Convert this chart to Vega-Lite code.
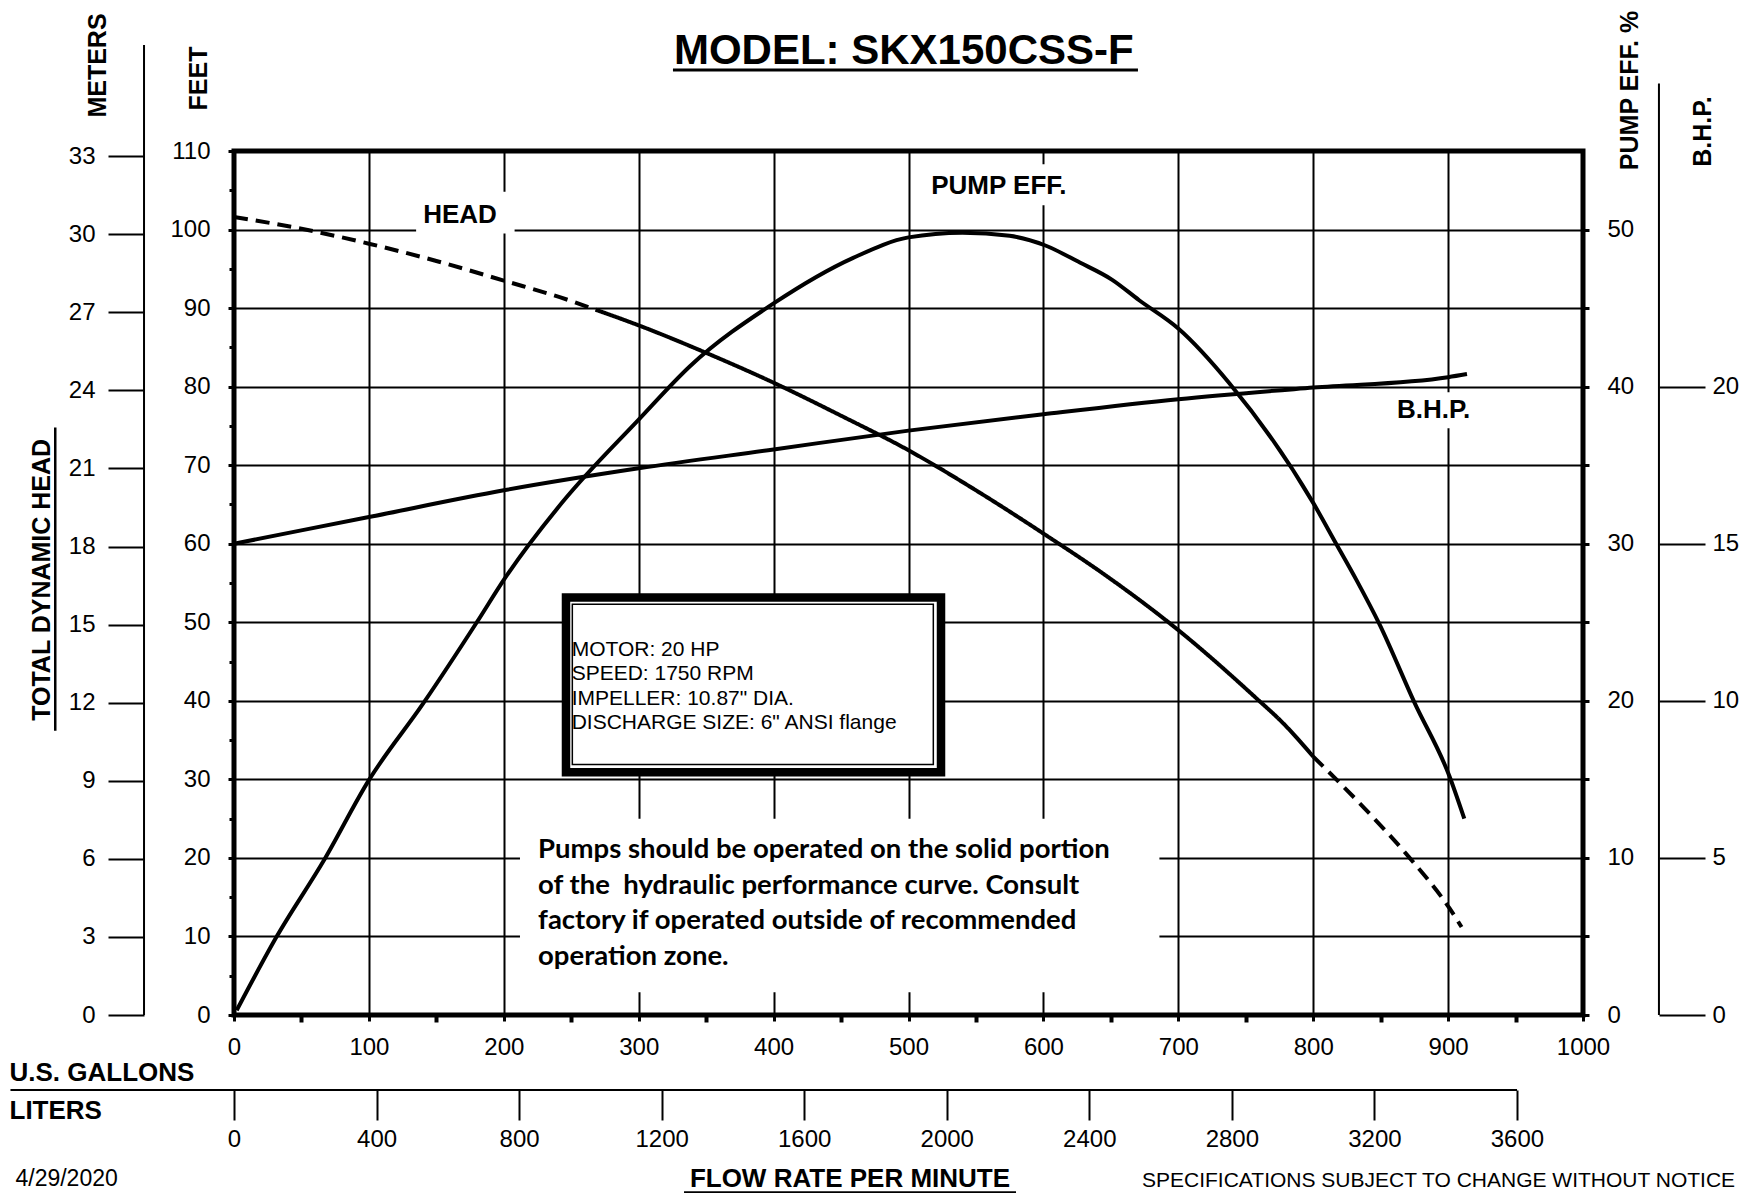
{
  "$schema": "https://vega.github.io/schema/vega-lite/v6.json",
  "width": 1349,
  "height": 864,
  "autosize": "none",
  "padding": {"left": 234, "top": 151, "right": 164, "bottom": 178},
  "background": "white",
  "config": {
    "view": {"stroke": "black", "strokeWidth": 5},
    "font": "Liberation Sans",
    "text": {"font": "Liberation Sans", "color": "black"},
    "axis": {
      "labelFont": "Liberation Sans", "labelFontSize": 24, "labelColor": "black",
      "titleFont": "Liberation Sans", "titleFontSize": 25, "titleFontWeight": "bold", "titleColor": "black",
      "tickColor": "black", "domainColor": "black", "labelFlush": false, "labelOverlap": false
    }
  },
  "datasets": {
    "head": [
      {"gpm": 0, "ft": 101.6, "zone": "outside", "seg": "low"},
      {"gpm": 50, "ft": 100.1, "zone": "outside", "seg": "low"},
      {"gpm": 100, "ft": 98.2, "zone": "outside", "seg": "low"},
      {"gpm": 150, "ft": 96.0, "zone": "outside", "seg": "low"},
      {"gpm": 200, "ft": 93.5, "zone": "outside", "seg": "low"},
      {"gpm": 250, "ft": 90.9, "zone": "outside", "seg": "low"},
      {"gpm": 268, "ft": 89.8, "zone": "outside", "seg": "low"},
      {"gpm": 268, "ft": 89.8, "zone": "recommended", "seg": "mid"},
      {"gpm": 300, "ft": 87.8, "zone": "recommended", "seg": "mid"},
      {"gpm": 350, "ft": 84.3, "zone": "recommended", "seg": "mid"},
      {"gpm": 400, "ft": 80.5, "zone": "recommended", "seg": "mid"},
      {"gpm": 450, "ft": 76.3, "zone": "recommended", "seg": "mid"},
      {"gpm": 500, "ft": 71.9, "zone": "recommended", "seg": "mid"},
      {"gpm": 550, "ft": 66.8, "zone": "recommended", "seg": "mid"},
      {"gpm": 600, "ft": 61.3, "zone": "recommended", "seg": "mid"},
      {"gpm": 650, "ft": 55.5, "zone": "recommended", "seg": "mid"},
      {"gpm": 700, "ft": 49.0, "zone": "recommended", "seg": "mid"},
      {"gpm": 758, "ft": 40.3, "zone": "recommended", "seg": "mid"},
      {"gpm": 778, "ft": 37.1, "zone": "recommended", "seg": "mid"},
      {"gpm": 800, "ft": 32.9, "zone": "recommended", "seg": "mid"},
      {"gpm": 800, "ft": 32.9, "zone": "outside", "seg": "high"},
      {"gpm": 837, "ft": 26.5, "zone": "outside", "seg": "high"},
      {"gpm": 871, "ft": 20.1, "zone": "outside", "seg": "high"},
      {"gpm": 901, "ft": 13.6, "zone": "outside", "seg": "high"},
      {"gpm": 910, "ft": 11.2, "zone": "outside", "seg": "high"}
    ],
    "eff": [
      {"gpm": 2, "eff": 0.3}, {"gpm": 31, "eff": 4.9}, {"gpm": 67, "eff": 9.9},
      {"gpm": 100, "eff": 14.95}, {"gpm": 140, "eff": 19.8}, {"gpm": 180, "eff": 25.0},
      {"gpm": 200, "eff": 27.7}, {"gpm": 244, "eff": 32.7}, {"gpm": 300, "eff": 37.9},
      {"gpm": 338, "eff": 41.3}, {"gpm": 400, "eff": 45.3}, {"gpm": 459, "eff": 48.2},
      {"gpm": 500, "eff": 49.5}, {"gpm": 540, "eff": 49.8}, {"gpm": 575, "eff": 49.6},
      {"gpm": 601, "eff": 49.0}, {"gpm": 627, "eff": 47.9}, {"gpm": 651, "eff": 46.8},
      {"gpm": 671, "eff": 45.5}, {"gpm": 700, "eff": 43.7}, {"gpm": 738, "eff": 40.2},
      {"gpm": 800, "eff": 32.6}, {"gpm": 817, "eff": 30.0}, {"gpm": 832, "eff": 27.7},
      {"gpm": 849, "eff": 24.9}, {"gpm": 875, "eff": 19.9}, {"gpm": 901, "eff": 15.2},
      {"gpm": 912, "eff": 12.5}
    ],
    "bhp": [
      {"gpm": 0, "bhp": 15.0}, {"gpm": 100, "bhp": 15.85}, {"gpm": 200, "bhp": 16.7},
      {"gpm": 300, "bhp": 17.4}, {"gpm": 400, "bhp": 18.0}, {"gpm": 500, "bhp": 18.6},
      {"gpm": 600, "bhp": 19.12}, {"gpm": 700, "bhp": 19.6}, {"gpm": 800, "bhp": 19.97},
      {"gpm": 900, "bhp": 20.3}, {"gpm": 914, "bhp": 20.4}
    ]
  },
  "layer": [
    {"data": {"values": [{}]}, "mark": {"type": "rect", "fill": "white", "clip": false},
      "encoding": {"x": {"datum": 135, "type": "quantitative", "scale": {"domain": [0, 1000], "nice": false}, "axis": null}, "x2": {"datum": 208},
        "y": {"datum": 99.5, "type": "quantitative", "scale": {"domain": [0, 110], "nice": false},
          "axis": {"orient": "left", "values": [5, 15, 25, 35, 45, 55, 65, 75, 85, 95, 105], "labels": false, "tickSize": 5, "tickWidth": 3, "domain": false, "grid": false, "title": null}},
        "y2": {"datum": 104.8}}},
    {"data": {"values": [{}]}, "mark": {"type": "rect", "fill": "white", "clip": false},
      "encoding": {"x": {"datum": 512, "type": "quantitative", "scale": {"domain": [0, 1000], "nice": false}, "axis": null}, "x2": {"datum": 622},
        "y": {"datum": 103.1, "type": "quantitative", "scale": {"domain": [0, 110], "nice": false}, "axis": null}, "y2": {"datum": 108.3}}},
    {"data": {"values": [{}]}, "mark": {"type": "rect", "fill": "white", "clip": false},
      "encoding": {"x": {"datum": 857, "type": "quantitative", "scale": {"domain": [0, 1000], "nice": false}, "axis": null}, "x2": {"datum": 921},
        "y": {"datum": 74.7, "type": "quantitative", "scale": {"domain": [0, 110], "nice": false}, "axis": null}, "y2": {"datum": 79.3}}},
    {"data": {"values": [{}]}, "mark": {"type": "rect", "fill": "white", "clip": false},
      "encoding": {"x": {"datum": 212, "type": "quantitative", "scale": {"domain": [0, 1000], "nice": false}, "axis": null}, "x2": {"datum": 686},
        "y": {"datum": 2.9, "type": "quantitative", "scale": {"domain": [0, 110], "nice": false}, "axis": null}, "y2": {"datum": 25}}},
    {
      "data": {"name": "head"},
      "mark": {"type": "line", "color": "black", "strokeWidth": 4, "interpolate": "monotone", "clip": false},
      "encoding": {
        "x": {"field": "gpm", "type": "quantitative", "scale": {"domain": [0, 1000], "nice": false},
          "axis": {"orient": "bottom", "values": [0, 100, 200, 300, 400, 500, 600, 700, 800, 900, 1000], "format": "d",
            "grid": true, "gridColor": "black", "gridWidth": 2, "gridOpacity": 1, "domain": false,
            "tickSize": 6, "tickWidth": 3, "labelPadding": 14,
            "title": "U.S. GALLONS", "titleFontSize": 26, "titleX": -225, "titleY": 57, "titleAlign": "left", "titleBaseline": "middle", "titleAngle": 0}},
        "y": {"field": "ft", "type": "quantitative", "scale": {"domain": [0, 110], "nice": false},
          "axis": {"orient": "left", "values": [0, 10, 20, 30, 40, 50, 60, 70, 80, 90, 100, 110],
            "grid": true, "gridColor": "black", "gridWidth": 2, "gridOpacity": 1, "domain": false,
            "tickSize": 6, "tickWidth": 3, "labelPadding": 18,
            "title": "FEET", "titleX": -36, "titleY": -73, "titleAngle": 270, "titleAlign": "center", "titleBaseline": "middle"}},
        "detail": {"field": "seg"},
        "strokeDash": {"field": "zone", "type": "nominal", "scale": {"domain": ["outside", "recommended"], "range": [[14, 8], [1, 0]]}, "legend": null}
      }
    },
    {
      "data": {"values": [{"liters": 0, "meters": 0}, {"liters": 3600, "meters": 33}]},
      "mark": {"type": "point", "opacity": 0},
      "encoding": {
        "x": {"field": "liters", "type": "quantitative", "scale": {"domain": [0, 3785.4], "nice": false},
          "axis": {"orient": "bottom", "offset": 75, "values": [0, 400, 800, 1200, 1600, 2000, 2400, 2800, 3200, 3600], "format": "d",
            "domain": false, "grid": false, "tickSize": 30, "tickWidth": 2, "labelPadding": 7,
            "title": "LITERS", "titleFontSize": 26, "titleX": -225, "titleY": 20, "titleAlign": "left", "titleBaseline": "middle", "titleAngle": 0}},
        "y": {"field": "meters", "type": "quantitative", "scale": {"domain": [0, 33.2], "nice": false},
          "axis": {"orient": "left", "offset": 90, "values": [0, 3, 6, 9, 12, 15, 18, 21, 24, 27, 30, 33],
            "domain": false, "grid": false, "tickSize": 36, "tickWidth": 2, "labelPadding": 13,
            "title": "METERS", "titleX": -47, "titleY": -86, "titleAngle": 270, "titleAlign": "center", "titleBaseline": "middle"}}
      }
    },
    {
      "data": {"name": "eff"},
      "mark": {"type": "line", "color": "black", "strokeWidth": 4, "interpolate": "monotone", "clip": false},
      "encoding": {
        "x": {"field": "gpm", "type": "quantitative", "scale": {"domain": [0, 1000], "nice": false},
          "axis": {"orient": "bottom", "values": [50, 150, 250, 350, 450, 550, 650, 750, 850, 950], "labels": false, "tickSize": 7, "tickWidth": 4, "domain": false, "grid": false, "title": null}},
        "y": {"field": "eff", "type": "quantitative", "scale": {"domain": [0, 55], "nice": false},
          "axis": {"orient": "right", "values": [0, 5, 10, 15, 20, 25, 30, 35, 40, 45, 50],
            "labelExpr": "datum.value % 10 === 0 ? datum.label : ''",
            "domain": false, "grid": false, "tickSize": 6, "tickWidth": 3, "labelPadding": 18,
            "title": "PUMP EFF. %", "titleX": 46, "titleY": -61, "titleAngle": 270, "titleAlign": "center", "titleBaseline": "middle"}}
      }
    },
    {
      "data": {"name": "bhp"},
      "mark": {"type": "line", "color": "black", "strokeWidth": 4, "interpolate": "monotone", "clip": false},
      "encoding": {
        "x": {"field": "gpm", "type": "quantitative", "scale": {"domain": [0, 1000], "nice": false}, "axis": null},
        "y": {"field": "bhp", "type": "quantitative", "scale": {"domain": [0, 27.5], "nice": false},
          "axis": {"orient": "right", "offset": 76, "values": [0, 5, 10, 15, 20],
            "domain": false, "grid": false, "tickSize": 46, "tickWidth": 2, "labelPadding": 7,
            "title": "B.H.P.", "titleX": 43, "titleY": -20, "titleAngle": 270, "titleAlign": "center", "titleBaseline": "middle"}}
      }
    },
    {"data": {"values": [{}]}, "mark": {"type": "rect", "fill": "white", "stroke": "black", "strokeWidth": 8.5, "clip": false},
      "encoding": {"x": {"datum": 246.1, "type": "quantitative", "scale": {"domain": [0, 1000], "nice": false}, "axis": null}, "x2": {"datum": 524.1},
        "y": {"datum": 30.9, "type": "quantitative", "scale": {"domain": [0, 110], "nice": false}, "axis": null}, "y2": {"datum": 53.15}}},
    {"data": {"values": [{}]}, "mark": {"type": "rect", "fill": null, "stroke": "black", "strokeWidth": 1.5, "clip": false},
      "encoding": {"x": {"datum": 250.8, "type": "quantitative", "scale": {"domain": [0, 1000], "nice": false}, "axis": null}, "x2": {"datum": 518.4},
        "y": {"datum": 31.9, "type": "quantitative", "scale": {"domain": [0, 110], "nice": false}, "axis": null}, "y2": {"datum": 52.3}}},
    {"data": {"values": [{}]}, "mark": {"type": "text", "text": ["MOTOR: 20 HP", "SPEED: 1750 RPM", "IMPELLER: 10.87\" DIA.", "DISCHARGE SIZE: 6\" ANSI flange"],
        "fontSize": 21, "lineHeight": 24.4, "align": "left", "baseline": "middle", "clip": false},
      "encoding": {"x": {"datum": 250.3, "type": "quantitative", "scale": {"domain": [0, 1000], "nice": false}, "axis": null},
        "y": {"datum": 46.5, "type": "quantitative", "scale": {"domain": [0, 110], "nice": false}, "axis": null}}},
    {"data": {"values": [{}]}, "mark": {"type": "text", "text": ["Pumps should be operated on the solid portion", "of the \u00a0hydraulic performance curve. Consult", "factory if operated outside of recommended", "operation zone."],
        "font": "Lato", "fontWeight": "bold", "fontSize": 27.5, "lineHeight": 35.7, "align": "left", "baseline": "middle", "clip": false},
      "encoding": {"x": {"datum": 225.4, "type": "quantitative", "scale": {"domain": [0, 1000], "nice": false}, "axis": null},
        "y": {"datum": 21.0, "type": "quantitative", "scale": {"domain": [0, 110], "nice": false}, "axis": null}}},
    {"data": {"values": [{}]}, "mark": {"type": "text", "text": "HEAD", "fontSize": 26, "fontWeight": "bold", "align": "center", "baseline": "middle", "clip": false},
      "encoding": {"x": {"datum": 167.5, "type": "quantitative", "scale": {"domain": [0, 1000], "nice": false}, "axis": null},
        "y": {"datum": 101.85, "type": "quantitative", "scale": {"domain": [0, 110], "nice": false}, "axis": null}}},
    {"data": {"values": [{}]}, "mark": {"type": "text", "text": "PUMP EFF.", "fontSize": 26, "fontWeight": "bold", "align": "center", "baseline": "middle", "clip": false},
      "encoding": {"x": {"datum": 567, "type": "quantitative", "scale": {"domain": [0, 1000], "nice": false}, "axis": null},
        "y": {"datum": 105.5, "type": "quantitative", "scale": {"domain": [0, 110], "nice": false}, "axis": null}}},
    {"data": {"values": [{}]}, "mark": {"type": "text", "text": "B.H.P.", "fontSize": 26, "fontWeight": "bold", "align": "center", "baseline": "middle", "clip": false},
      "encoding": {"x": {"datum": 889.2, "type": "quantitative", "scale": {"domain": [0, 1000], "nice": false}, "axis": null},
        "y": {"datum": 77.0, "type": "quantitative", "scale": {"domain": [0, 110], "nice": false}, "axis": null}}},
    {"data": {"values": [{}]}, "mark": {"type": "text", "text": "MODEL: SKX150CSS-F", "fontSize": 42, "fontWeight": "bold", "align": "center", "baseline": "middle", "clip": false},
      "encoding": {"x": {"datum": 496.5, "type": "quantitative", "scale": {"domain": [0, 1000], "nice": false}, "axis": null},
        "y": {"datum": 122.7, "type": "quantitative", "scale": {"domain": [0, 110], "nice": false}, "axis": null}}},
    {"data": {"values": [{}]}, "mark": {"type": "rule", "color": "black", "strokeWidth": 3, "clip": false},
      "encoding": {"x": {"datum": 325.4, "type": "quantitative", "scale": {"domain": [0, 1000], "nice": false}, "axis": null}, "x2": {"datum": 670.1},
        "y": {"datum": 120.3, "type": "quantitative", "scale": {"domain": [0, 110], "nice": false}, "axis": null}}},
    {"data": {"values": [{}]}, "mark": {"type": "text", "text": "TOTAL DYNAMIC HEAD", "fontSize": 25, "fontWeight": "bold", "angle": 270, "align": "center", "baseline": "middle", "clip": false},
      "encoding": {"x": {"datum": -142.3, "type": "quantitative", "scale": {"domain": [0, 1000], "nice": false}, "axis": null},
        "y": {"datum": 55.4, "type": "quantitative", "scale": {"domain": [0, 110], "nice": false}, "axis": null}}},
    {"data": {"values": [{}]}, "mark": {"type": "rule", "color": "black", "strokeWidth": 2.5, "clip": false},
      "encoding": {"x": {"datum": -132.5, "type": "quantitative", "scale": {"domain": [0, 1000], "nice": false}, "axis": null},
        "y": {"datum": 36.2, "type": "quantitative", "scale": {"domain": [0, 110], "nice": false}, "axis": null}, "y2": {"datum": 74.8}}},
    {"data": {"values": [{}]}, "mark": {"type": "text", "text": "FLOW RATE PER MINUTE", "fontSize": 26, "fontWeight": "bold", "align": "center", "baseline": "middle", "clip": false},
      "encoding": {"x": {"datum": 456.6, "type": "quantitative", "scale": {"domain": [0, 1000], "nice": false}, "axis": null},
        "y": {"datum": -20.9, "type": "quantitative", "scale": {"domain": [0, 110], "nice": false}, "axis": null}}},
    {"data": {"values": [{}]}, "mark": {"type": "rule", "color": "black", "strokeWidth": 2.5, "clip": false},
      "encoding": {"x": {"datum": 333.6, "type": "quantitative", "scale": {"domain": [0, 1000], "nice": false}, "axis": null}, "x2": {"datum": 579.7},
        "y": {"datum": -22.6, "type": "quantitative", "scale": {"domain": [0, 110], "nice": false}, "axis": null}}},
    {"data": {"values": [{}]}, "mark": {"type": "text", "text": "4/29/2020", "fontSize": 23, "align": "left", "baseline": "middle", "clip": false},
      "encoding": {"x": {"datum": -162, "type": "quantitative", "scale": {"domain": [0, 1000], "nice": false}, "axis": null},
        "y": {"datum": -20.9, "type": "quantitative", "scale": {"domain": [0, 110], "nice": false}, "axis": null}}},
    {"data": {"values": [{}]}, "mark": {"type": "text", "text": "SPECIFICATIONS SUBJECT TO CHANGE WITHOUT NOTICE", "fontSize": 21, "align": "left", "baseline": "middle", "clip": false},
      "encoding": {"x": {"datum": 673.1, "type": "quantitative", "scale": {"domain": [0, 1000], "nice": false}, "axis": null},
        "y": {"datum": -21.1, "type": "quantitative", "scale": {"domain": [0, 110], "nice": false}, "axis": null}}},
    {"data": {"values": [{}]}, "mark": {"type": "rule", "color": "black", "strokeWidth": 2, "clip": false},
      "encoding": {"x": {"datum": -66.7, "type": "quantitative", "scale": {"domain": [0, 1000], "nice": false}, "axis": null},
        "y": {"datum": 0, "type": "quantitative", "scale": {"domain": [0, 110], "nice": false}, "axis": null}, "y2": {"datum": 123.5}}},
    {"data": {"values": [{}]}, "mark": {"type": "rule", "color": "black", "strokeWidth": 2, "clip": false},
      "encoding": {"x": {"datum": 1056.3, "type": "quantitative", "scale": {"domain": [0, 1000], "nice": false}, "axis": null},
        "y": {"datum": 0, "type": "quantitative", "scale": {"domain": [0, 110], "nice": false}, "axis": null}, "y2": {"datum": 118.6}}},
    {"data": {"values": [{}]}, "mark": {"type": "rule", "color": "black", "strokeWidth": 2, "clip": false},
      "encoding": {"x": {"datum": -165.7, "type": "quantitative", "scale": {"domain": [0, 1000], "nice": false}, "axis": null}, "x2": {"datum": 951.1},
        "y": {"datum": -9.55, "type": "quantitative", "scale": {"domain": [0, 110], "nice": false}, "axis": null}}}
  ],
  "resolve": {"scale": {"x": "independent", "y": "independent"}, "axis": {"x": "independent", "y": "independent"}}
}
